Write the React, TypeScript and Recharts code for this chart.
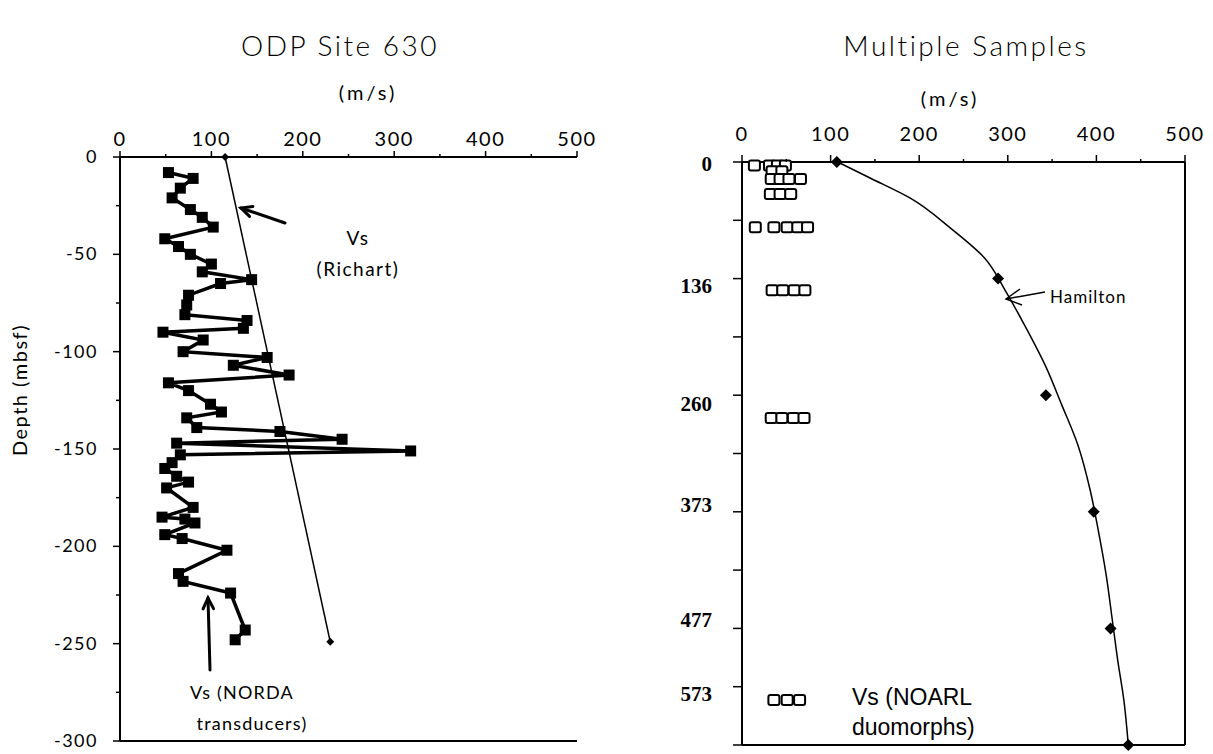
import React from "react";
import { ReferenceLine, Scatter, ScatterChart, XAxis, YAxis } from "recharts";

// ---- left panel: ODP Site 630 ----
const velocityTicks = [0, 50, 100, 150, 200, 250, 300, 350, 400, 450, 500];
const depthTicks = [-300, -275, -250, -225, -200, -175, -150, -125, -100, -75, -50, -25, 0];

// Vs (NORDA transducers), m/s vs depth (mbsf), in depth order
const nordaVs = [
  53, 80, 66, 57, 77, 90, 102, 49, 64, 77, 100, 90, 144, 110, 75, 73, 71, 139, 135, 47, 91, 69, 161, 124, 185, 53,
  75, 99, 111, 73, 84, 175, 243, 62, 318, 66, 57, 49, 62, 75, 51, 80, 46, 71, 82, 49, 68, 117, 64, 69, 121, 137, 126,
];
const nordaDepth = [
  -8, -11, -16, -21, -27, -31, -36, -42, -46, -50, -55, -59, -63, -65, -71, -76, -81, -84, -88, -90, -94, -100, -103,
  -107, -112, -116, -120, -127, -131, -134, -139, -141, -145, -147, -151, -153, -157, -160, -164, -167, -170, -180,
  -185, -186, -188, -194, -196, -202, -214, -218, -224, -243, -248,
];

// Vs (Richart)
const richartVs = [115, 230];
const richartDepth = [0, -249];

// ---- right panel: Multiple Samples ----
// depth axis is drawn in tick positions; labelled ticks carry the depth in mbsf
const rowTicks = [0, 1, 2, 3, 4, 5, 6, 7, 8, 9, 10];
const rowLabelPos = [0, 2, 4, 6, 8, 9];
const rowLabelText = ["0", "136", "260", "373", "477", "573"];

// Hamilton curve
const hamiltonVs = [108, 144, 190, 235, 274, 297, 319, 342, 361, 379, 393, 402, 411, 418, 424, 431, 436];
const hamiltonPos = [0, 0.27, 0.62, 1.13, 1.65, 2.2, 2.8, 3.48, 4.17, 4.85, 5.63, 6.31, 7.08, 7.86, 8.54, 9.23, 10];
// Hamilton values at the labelled depths
const hamiltonPtVs = [107, 289, 343, 397, 416, 436];
const hamiltonPtPos = [0, 2, 4, 6, 8, 10];

// Vs (NOARL duomorphs)
const noarlVs = [14, 31, 40, 49, 34, 45, 33, 43, 53, 66, 32, 43, 55, 15, 36, 51, 63, 74, 34, 46, 59, 71, 33, 45, 58, 70, 36, 51, 65];
const noarlPos = [
  0.06, 0.06, 0.06, 0.06, 0.16, 0.16, 0.29, 0.29, 0.29, 0.29, 0.55, 0.55, 0.55, 1.12, 1.12, 1.12, 1.12, 1.12, 2.2, 2.2,
  2.2, 2.2, 4.39, 4.39, 4.39, 4.39, 9.23, 9.23, 9.23,
];

const nordaData = nordaVs.map((v, i) => ({ v, d: nordaDepth[i] }));
const richartData = richartVs.map((v, i) => ({ v, d: richartDepth[i] }));
const hamiltonData = hamiltonVs.map((v, i) => ({ v, pos: hamiltonPos[i] }));
const hamiltonPts = hamiltonPtVs.map((v, i) => ({ v, pos: hamiltonPtPos[i] }));
const noarlData = noarlVs.map((v, i) => ({ v, pos: noarlPos[i] }));

const thin = "Lato, 'DejaVu Sans', sans-serif";
const ink = "#000";

// the typed depth labels sit a little off their tick marks in the original
const rowLabelNudge = [1, 6, 8, -8, -9, 6];

const LeftXTick = ({ x, y, payload }: any) => {
  const major = payload.value % 100 === 0;
  return (
    <g>
      <line x1={x} x2={x} y1={y} y2={y - (major ? 6 : 3)} stroke={ink} strokeWidth={1.5} />
      {major && (
        <text x={x} y={y - 11} textAnchor="middle" fontFamily={thin} fontSize={20} letterSpacing={1.5} fill={ink}>
          {payload.value}
        </text>
      )}
    </g>
  );
};

const LeftYTick = ({ x, y, payload }: any) => {
  const major = payload.value % 50 === 0;
  return (
    <g>
      <line x1={x} x2={x - (major ? 7 : 4)} y1={y} y2={y} stroke={ink} strokeWidth={1.5} />
      {major && (
        <text x={x - 22} y={y + 6} textAnchor="end" fontFamily={thin} fontSize={18} letterSpacing={1.5} fill={ink}>
          {payload.value}
        </text>
      )}
    </g>
  );
};

const RightXTick = ({ x, y, payload }: any) => {
  const major = payload.value % 100 === 0;
  return (
    <g>
      <line x1={x} x2={x} y1={y} y2={y - (major ? 7 : 3)} stroke={ink} strokeWidth={1.5} />
      {major && (
        <text x={x} y={y - 21} textAnchor="middle" fontFamily={thin} fontSize={20} letterSpacing={1.5} fill={ink}>
          {payload.value}
        </text>
      )}
    </g>
  );
};

const RightYTick = ({ x, y, payload }: any) => {
  const idx = rowLabelPos.indexOf(payload.value);
  return (
    <g>
      <line x1={x} x2={x - 9} y1={y} y2={y} stroke={ink} strokeWidth={1.5} />
      {idx >= 0 && (
        <text
          x={x - 30}
          y={y + 8 + rowLabelNudge[idx]}
          textAnchor="end"
          fontFamily="'Liberation Serif', serif"
          fontWeight={700}
          fontSize={21}
          fill={ink}
        >
          {rowLabelText[idx]}
        </text>
      )}
    </g>
  );
};

const square = ({ cx, cy }: any) => <rect x={cx - 5.5} y={cy - 5.5} width={11} height={11} fill={ink} />;
const smallDiamond = ({ cx, cy }: any) => (
  <path d={`M${cx},${cy - 4}L${cx + 4},${cy}L${cx},${cy + 4}L${cx - 4},${cy}Z`} fill={ink} />
);
const diamond = ({ cx, cy }: any) => (
  <path d={`M${cx},${cy - 6}L${cx + 6},${cy}L${cx},${cy + 6}L${cx - 6},${cy}Z`} fill={ink} />
);
const openBox = ({ cx, cy }: any) => (
  <rect x={cx - 5.5} y={cy - 5} width={11} height={10} rx={2} fill="#fff" stroke={ink} strokeWidth={2} />
);
const noShape = () => <g />;

function Arrow({ x1, y1, x2, y2, head = 12 }: { x1: number; y1: number; x2: number; y2: number; head?: number }) {
  // tail (x1,y1) -> tip (x2,y2), open arrowhead
  const a = Math.atan2(y2 - y1, x2 - x1);
  const s = 0.45;
  const h1 = [x2 - head * Math.cos(a - s), y2 - head * Math.sin(a - s)];
  const h2 = [x2 - head * Math.cos(a + s), y2 - head * Math.sin(a + s)];
  return (
    <g stroke={ink} strokeWidth={3} fill="none" strokeLinecap="round">
      <line x1={x1} y1={y1} x2={x2} y2={y2} />
      <polyline points={`${h1[0]},${h1[1]} ${x2},${y2} ${h2[0]},${h2[1]}`} />
    </g>
  );
}

export default function App() {
  const axisLine = { stroke: ink, strokeWidth: 2 };
  return (
    <div style={{ position: "absolute", left: 0, top: 0, width: 1213, height: 754, background: "#fff" }}>
      <div style={{ position: "absolute", left: 0, top: 0 }}>
        <ScatterChart width={600} height={754} margin={{ top: 117, right: 23, bottom: 13, left: 60 }}>
          <XAxis
            type="number"
            dataKey="v"
            orientation="top"
            domain={[0, 500]}
            ticks={velocityTicks}
            height={40}
            axisLine={axisLine}
            tickLine={false}
            tickSize={0}
            tickMargin={0}
            tick={LeftXTick}
            interval={0}
          />
          <YAxis
            type="number"
            dataKey="d"
            domain={[-300, 0]}
            ticks={depthTicks}
            width={60}
            axisLine={axisLine}
            tickLine={false}
            tickSize={0}
            tickMargin={0}
            tick={LeftYTick}
            interval={0}
          />
          <ReferenceLine y={-300} stroke={ink} strokeWidth={2} />
          <Scatter data={richartData} line={{ stroke: ink, strokeWidth: 1.5 }} shape={smallDiamond} isAnimationActive={false} />
          <Scatter data={nordaData} line={{ stroke: ink, strokeWidth: 3.5 }} shape={square} isAnimationActive={false} />
        </ScatterChart>
      </div>

      <div style={{ position: "absolute", left: 620, top: 0 }}>
        <ScatterChart width={593} height={754} margin={{ top: 122, right: 28, bottom: 9, left: 62 }}>
          <XAxis
            type="number"
            dataKey="v"
            orientation="top"
            domain={[0, 500]}
            ticks={velocityTicks}
            height={40}
            axisLine={axisLine}
            tickLine={false}
            tickSize={0}
            tickMargin={0}
            tick={RightXTick}
            interval={0}
          />
          <YAxis
            type="number"
            dataKey="pos"
            domain={[0, 10]}
            reversed
            ticks={rowTicks}
            width={60}
            axisLine={axisLine}
            tickLine={false}
            tickSize={0}
            tickMargin={0}
            tick={RightYTick}
            interval={0}
          />
          <ReferenceLine y={10} stroke={ink} strokeWidth={2} />
          <ReferenceLine x={500} stroke={ink} strokeWidth={2} />
          <Scatter
            data={hamiltonData}
            line={{ stroke: ink, strokeWidth: 1.5 }}
            lineJointType="monotoneY"
            shape={noShape}
            isAnimationActive={false}
          />
          <Scatter data={hamiltonPts} shape={diamond} isAnimationActive={false} />
          <Scatter data={noarlData} shape={openBox} isAnimationActive={false} />
        </ScatterChart>
      </div>

      <svg width={1213} height={754} style={{ position: "absolute", left: 0, top: 0, pointerEvents: "none" }}>
        <g fontFamily={thin} fill={ink}>
          <text x={340} y={56} textAnchor="middle" fontSize={28} fontWeight={300} letterSpacing={2.5}>
            ODP Site 630
          </text>
          <text x={966} y={56} textAnchor="middle" fontSize={28} fontWeight={300} letterSpacing={2.5}>
            Multiple Samples
          </text>
          <text x={368} y={100} textAnchor="middle" fontSize={20} letterSpacing={3}>
            (m/s)
          </text>
          <text x={950} y={106} textAnchor="middle" fontSize={20} letterSpacing={3}>
            (m/s)
          </text>
          <text x={27} y={390} textAnchor="middle" fontSize={20} letterSpacing={1.5} transform="rotate(-90 27 390)">
            Depth (mbsf)
          </text>
          <text x={358} y={245} textAnchor="middle" fontSize={19} letterSpacing={1.5}>
            Vs
          </text>
          <text x={358} y={276} textAnchor="middle" fontSize={19} letterSpacing={1.5}>
            (Richart)
          </text>
          <text x={242} y={699} textAnchor="middle" fontSize={18} letterSpacing={1.2}>
            Vs (NORDA
          </text>
          <text x={252} y={730} textAnchor="middle" fontSize={18} letterSpacing={1.2}>
            transducers)
          </text>
          <text x={1050} y={303} fontSize={17} letterSpacing={1}>
            Hamilton
          </text>
        </g>
        <g fontFamily="'Liberation Sans', Arial, sans-serif" fill={ink} fontSize={23}>
          <text x={852} y={705}>Vs (NOARL</text>
          <text x={852} y={735}>duomorphs)</text>
        </g>
        <Arrow x1={285} y1={223} x2={241} y2={208} />
        <Arrow x1={210} y1={670} x2={208} y2={598} />
        <g stroke={ink} strokeWidth={1.5} fill="none">
          <line x1={1045} y1={292} x2={1006} y2={299} />
          <polyline points="1020,289 1006,299 1022,305" />
        </g>
      </svg>
    </div>
  );
}
